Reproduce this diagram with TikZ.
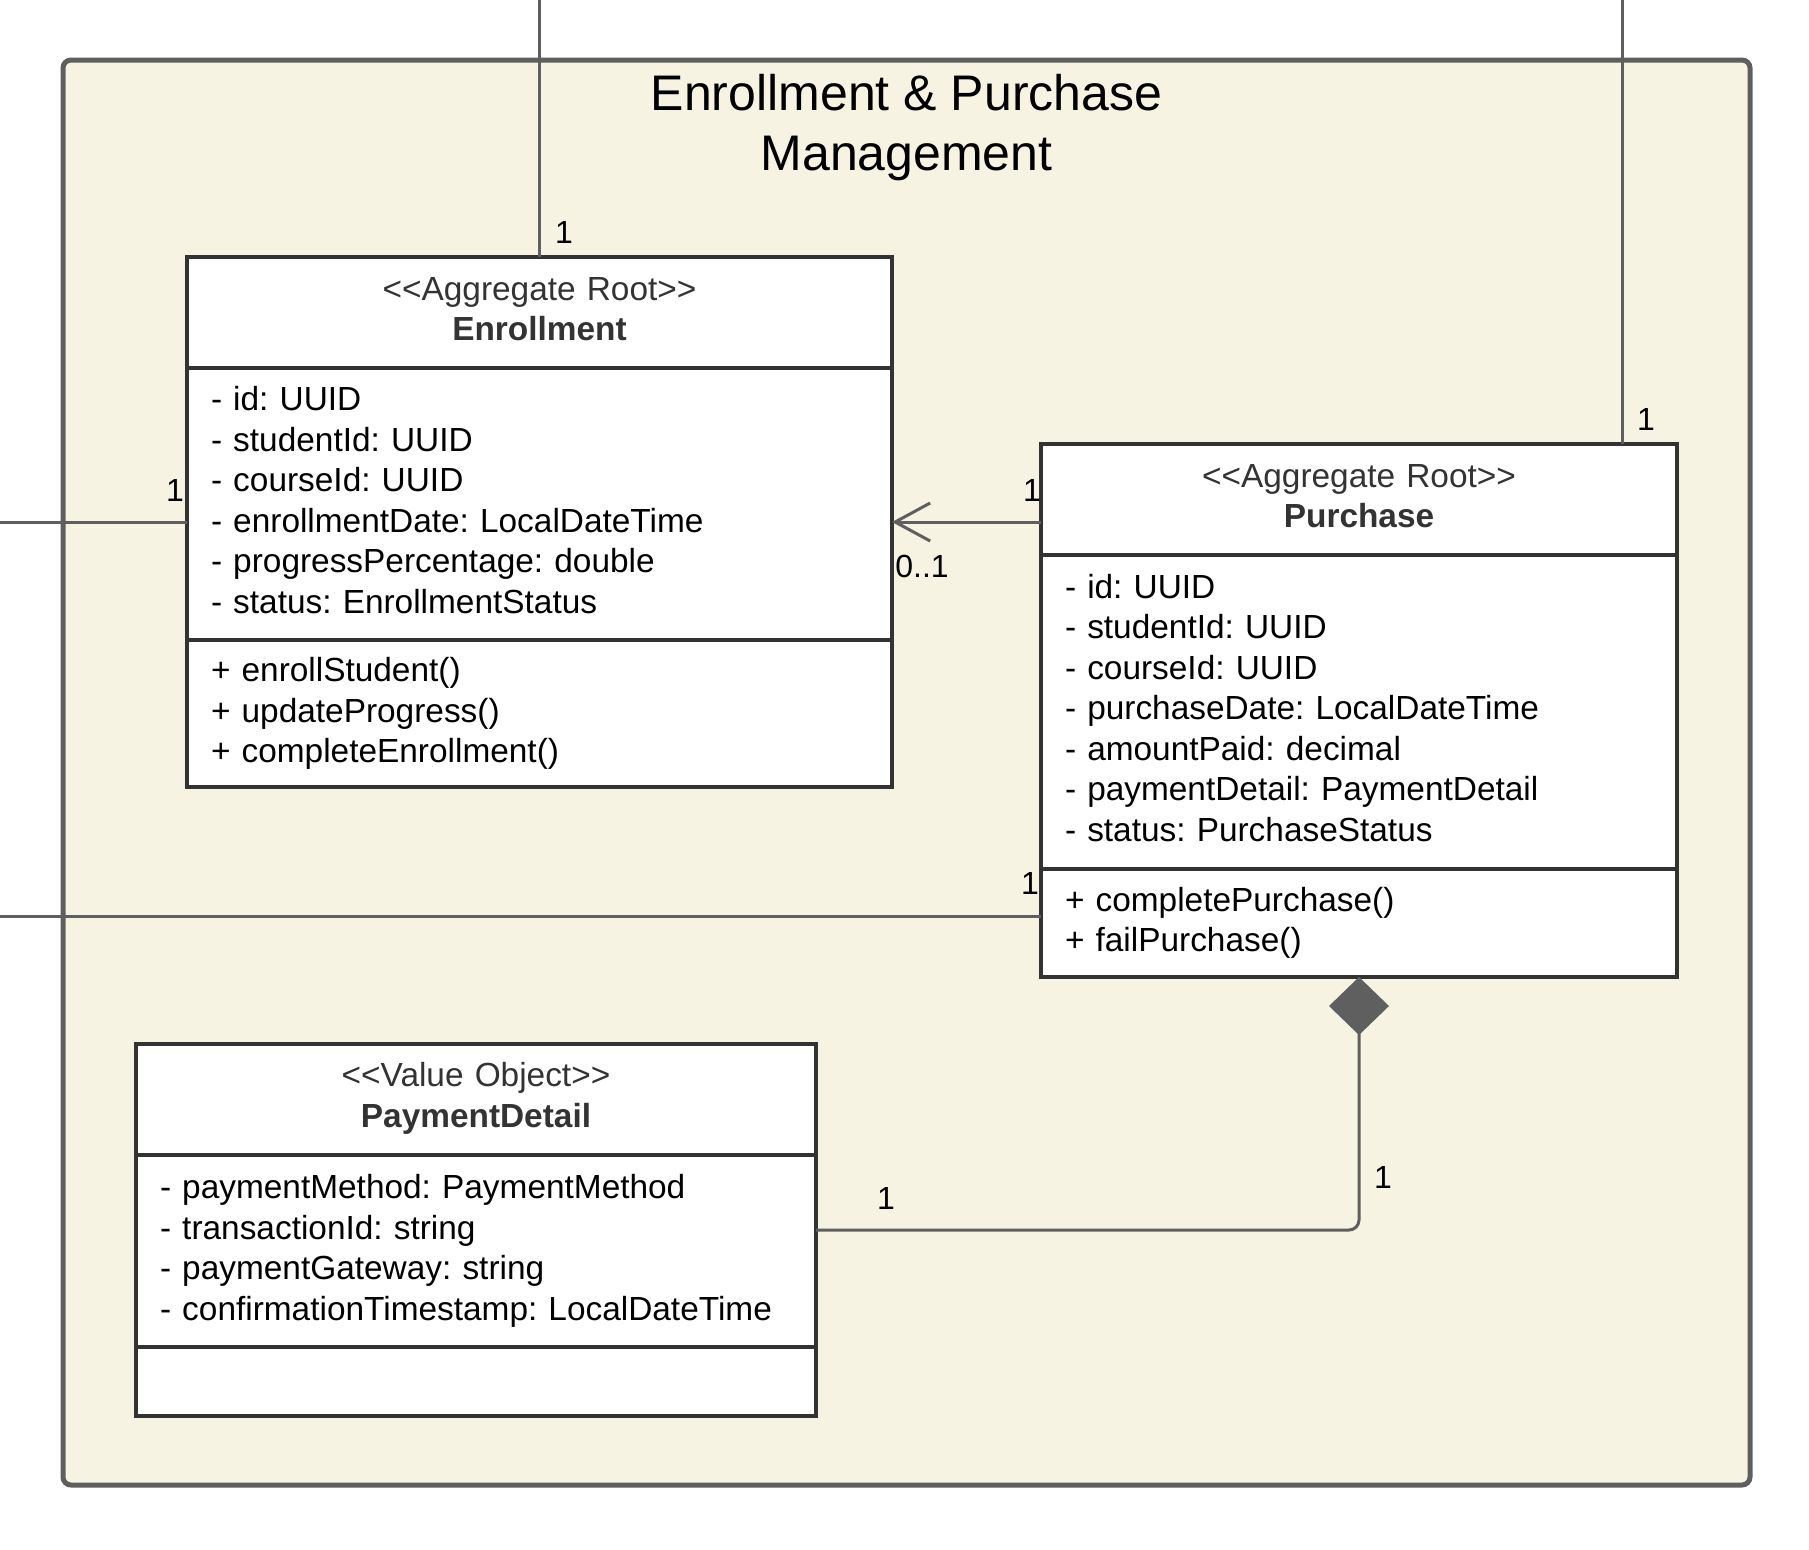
\documentclass[tikz,border=0pt]{standalone}
\usepackage{fontspec}
\setmainfont{Liberation Sans}
\usetikzlibrary{
    positioning,
    arrows.meta,
    calc
}
\frenchspacing
\definecolor{frameline}{HTML}{5F5F5F}
\definecolor{framefill}{HTML}{F6F3E3}
\definecolor{boxline}{HTML}{333333}
\newcommand{\stereo}[1]{<\kern0pt<#1>\kern0pt>}
\tikzset{classpart/.style={
    draw=boxline,
    line width=1.75pt,
    fill=white,
    outer sep=0pt,
    inner xsep=12pt,
    inner ysep=0pt,
    font=\fontsize{16.7}{20.25}\selectfont
}}
\tikzset{classhead/.style={classpart, align=center, text=boxline, minimum height=55.5pt,
    execute at end node={\par\vspace*{#1}}}, classhead/.default=3.5pt}
\tikzset{classattr/.style={classpart, align=left,
    execute at end node={\par\vspace*{4pt}}}}
\tikzset{classbody/.style={classpart, align=left}}
\tikzset{context/.style={draw=frameline, fill=framefill, line width=2.5pt, rounded corners=4pt}}
\tikzset{link/.style={draw=frameline, line width=1.5pt}}
\tikzset{arrow/.style={link, arrows={-Straight Barb[length=17.5pt,width=19pt]}}}
\tikzset{composition/.style={link, arrows={Diamond[length=29pt,width=30pt]-}, rounded corners=5pt}}
\tikzset{mult/.style={font=\fontsize{16}{19}\selectfont, inner sep=0pt}}

\begin{document}
\begin{tikzpicture}[
            x=0.5pt,
            y=-0.5pt,
            node distance=0pt,
    ]
        \useasboundingbox (0,0) rectangle (1809,1549);

        \node[context, minimum width=843.5pt, minimum height=712.5pt]
            (context) at (906.5,772.5)
            {};

        \node[font=\fontsize{25}{30}\selectfont, align=center]
            (title) at (906.5,128)
            {Enrollment \& Purchase\\Management};

        % Enrollment
        \node[classhead, text width=328.5pt, anchor=north west]
            (enrollment-head) at (187,257)
            {\stereo{Aggregate Root}\\\textbf{Enrollment}};

        \node[classattr, text width=328.5pt, minimum height=136pt, below=of enrollment-head]
            (enrollment-attr)
            {- id: UUID\\- studentId: UUID\\- courseId: UUID\\- enrollmentDate: LocalDateTime\\- progressPercentage: double\\- status: EnrollmentStatus};

        \node[classbody, text width=328.5pt, minimum height=73.5pt, below=of enrollment-attr]
            (enrollment-ops)
            {+ enrollStudent()\\+ updateProgress()\\+ completeEnrollment()};

        % Purchase
        \node[classhead, text width=294pt, anchor=north west]
            (purchase-head) at (1041,444)
            {\stereo{Aggregate Root}\\\textbf{Purchase}};

        \node[classattr, text width=294pt, minimum height=157pt, below=of purchase-head]
            (purchase-attr)
            {- id: UUID\\- studentId: UUID\\- courseId: UUID\\- purchaseDate: LocalDateTime\\- amountPaid: decimal\\- paymentDetail: PaymentDetail\\- status: PurchaseStatus};

        \node[classbody, text width=294pt, minimum height=54pt, below=of purchase-attr]
            (purchase-ops)
            {+ completePurchase()\\+ failPurchase()};

        % PaymentDetail
        \node[classhead=1pt, text width=316pt, anchor=north west]
            (payment-head) at (136,1044)
            {\stereo{Value Object}\\\textbf{PaymentDetail}};

        \node[classbody, text width=316pt, minimum height=96pt, below=of payment-head]
            (payment-attr)
            {- paymentMethod: PaymentMethod\\- transactionId: string\\- paymentGateway: string\\- confirmationTimestamp: LocalDateTime};

        \node[classbody, text width=316pt, minimum height=34.5pt, below=of payment-attr]
            (payment-ops)
            {};

        \coordinate (enr-mid) at ($(enrollment-head.north west)!0.5!(enrollment-ops.south west)$);
        \coordinate (pay-mid) at ($(payment-head.north east)!0.5!(payment-ops.south east)$);
        \coordinate (enr-top-in) at (539.5,0);
        \coordinate (pur-top-in) at (1622,0);
        \coordinate (enr-left-in) at (0,522);
        \coordinate (pur-left-in) at (0,916);

        \draw[link] (enr-top-in) -- (enr-top-in |- enrollment-head.north);
        \draw[link] (pur-top-in) -- (pur-top-in |- purchase-head.north);
        \draw[link] (enr-left-in) -- (enr-mid);
        \draw[link] (pur-left-in) -- (pur-left-in -| purchase-ops.west);
        \draw[arrow] (purchase-head.west |- enr-mid) -- (enrollment-attr.east |- enr-mid);
        \draw[composition] (purchase-ops.south) |- (pay-mid);

        \node[mult] (enr-top-mult) at (564,232) {1};
        \node[mult] (enr-left-mult) at (175,490) {1};
        \node[mult] (pur-top-mult) at (1646,419) {1};
        \node[mult] (pur-assoc-mult) at (1032,490) {1};
        \node[mult] (enr-assoc-mult) at (922,566) {0..1};
        \node[mult] (pur-left-mult) at (1030,883) {1};
        \node[mult] (pur-comp-mult) at (1383,1177) {1};
        \node[mult] (pay-comp-mult) at (886,1198) {1};

    \end{tikzpicture}
\end{document}
